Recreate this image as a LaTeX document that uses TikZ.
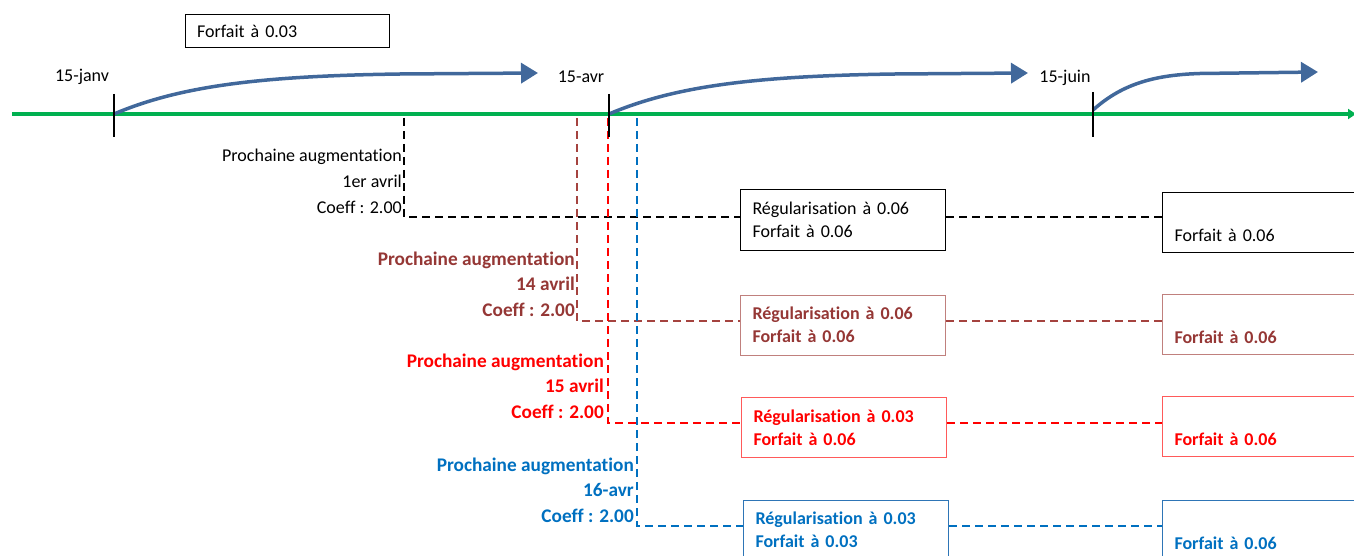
\documentclass[tikz,border=0pt]{standalone}
\usepackage{fontspec}
\setmainfont{Carlito}[Ligatures=NoCommon]
\usetikzlibrary{arrows.meta}

\definecolor{axisgreen}{HTML}{00B050}
\definecolor{flowblue}{HTML}{41689B}
\definecolor{cbrown}{HTML}{953735}
\definecolor{cbrownline}{HTML}{A5433F}
\definecolor{cbrownbox}{HTML}{C0807D}
\definecolor{cred}{HTML}{FF0000}
\definecolor{credbox}{HTML}{FF5A5A}
\definecolor{cblue}{HTML}{0070C0}
\definecolor{cbluebox}{HTML}{2E75B6}

\tikzset{
  txt/.style={font=\fontsize{18}{23}\selectfont, inner sep=0pt},
  boldtxt/.style={font=\fontsize{18}{23}\selectfont\bfseries},
  datelabel/.style={txt},
  infobox/.style={draw, line width=1pt, txt, align=left, text width=181pt,
    inner xsep=12pt, inner ysep=0pt, minimum height=60pt, anchor=west},
  notelabel/.style={font=\fontsize{18}{26}\selectfont, inner sep=0pt, align=right, anchor=east},
  boldnote/.style={notelabel, font=\fontsize{19.3}{25.7}\selectfont\bfseries},
  link/.style={dashed, dash pattern=on 8pt off 5pt, line width=2pt},
  tick/.style={line width=2.5pt, black},
  flow/.style={flowblue, line width=3.5pt, -{Triangle[length=17pt,width=20pt]}},
}

\begin{document}
\begin{tikzpicture}[x=1pt,y=-1pt]
\useasboundingbox (0,0) rectangle (1354,556);
\clip (0,0) rectangle (1354,556);

% top box
\node[draw, line width=1pt, txt, minimum width=204pt, minimum height=33pt,
  text width=180pt, inner xsep=12pt, align=left] (forfait) at (287,31.5) {Forfait à 0.03};

% timeline
\coordinate (tl0) at (12,114);
\coordinate (tl1) at (1356,114);
\draw[axisgreen, line width=4pt, -{Triangle[length=8pt,width=10pt]}] (tl0) -- (tl1);

% tick positions
\coordinate (janv) at (114,114);
\coordinate (avr) at (609,114);
\coordinate (juin) at (1093,114);

\node[datelabel] (ljanv) at (82,77) {15-janv};
\node[datelabel] (lavr) at (581,77) {15-avr};
\node[datelabel] (ljuin) at (1065,78) {15-juin};

% period arrows
\coordinate (a1) at (538,73);
\coordinate (a2) at (1028,73);
\coordinate (a3) at (1318,72);
\draw[flow] (janv) .. controls (180,86) and (260,76) .. (400,74) -- (a1);
\draw[flow] (avr) .. controls (675,86) and (755,76) .. (895,74) -- (a2);
\draw[flow] (1093,110) .. controls (1120,86) and (1150,75) .. (1200,73.5) -- (a3);

% black scenario
\node[infobox, black] (bk1) at (740,220) {Régularisation à 0.06\\Forfait à 0.06};
\node[infobox, black] (bk2) at (1162,222.5) {\strut\\Forfait à 0.06};
\node[notelabel, black] (bkn) at (402,181) {Prochaine augmentation\\1er avril\\Coeff : 2.00};
\coordinate (bktop) at (404,118);
\coordinate (bkc) at (404,217);
\draw[link, black] (bktop) -- (bkc) -- (bkc -| bk1.west);
\draw[link, black] (bk1.east |- bkc) -- (bkc -| bk2.west);

% brown scenario
\node[infobox, draw=cbrownbox, text=cbrown, boldtxt] (br1) at (740,325) {Régularisation à 0.06\\Forfait à 0.06};
\node[infobox, draw=cbrownbox, text=cbrown, boldtxt] (br2) at (1162,324.5) {\strut\\Forfait à 0.06};
\node[boldnote, text=cbrown] (brn) at (575,284) {Prochaine augmentation\\14 avril\\Coeff : 2.00};
\coordinate (brtop) at (577,118);
\coordinate (brc) at (577,321);
\draw[link, cbrownline] (brtop) -- (brc) -- (brc -| br1.west);
\draw[link, cbrownline] (br1.east |- brc) -- (brc -| br2.west);

% red scenario
\node[infobox, draw=credbox, text=cred, boldtxt] (rd1) at (741,427.5) {Régularisation à 0.03\\Forfait à 0.06};
\node[infobox, draw=credbox, text=cred, boldtxt] (rd2) at (1162,426.5) {\strut\\Forfait à 0.06};
\node[boldnote, text=cred] (rdn) at (604,386) {Prochaine augmentation\\15 avril\\Coeff : 2.00};
\coordinate (rdtop) at (608,118);
\coordinate (rdc) at (608,423);
\draw[link, cred] (rdtop) -- (rdc) -- (rdc -| rd1.west);
\draw[link, cred] (rd1.east |- rdc) -- (rdc -| rd2.west);

% blue scenario
\node[infobox, draw=cbluebox, text=cblue, boldtxt] (bl1) at (743,530) {Régularisation à 0.03\\Forfait à 0.03};
\node[infobox, draw=cbluebox, text=cblue, boldtxt] (bl2) at (1162,530) {\strut\\Forfait à 0.06};
\node[boldnote, text=cblue] (bln) at (634,490) {Prochaine augmentation\\16-avr\\Coeff : 2.00};
\coordinate (bltop) at (637,118);
\coordinate (blc) at (637,526);
\draw[link, cblue] (bltop) -- (blc) -- (blc -| bl1.west);
\draw[link, cblue] (bl1.east |- blc) -- (blc -| bl2.west);

% ticks on top
\draw[tick] (114,94) -- (114,137);
\draw[tick] (609,94) -- (609,137);
\draw[tick] (1093,92) -- (1093,137);
\end{tikzpicture}
\end{document}
